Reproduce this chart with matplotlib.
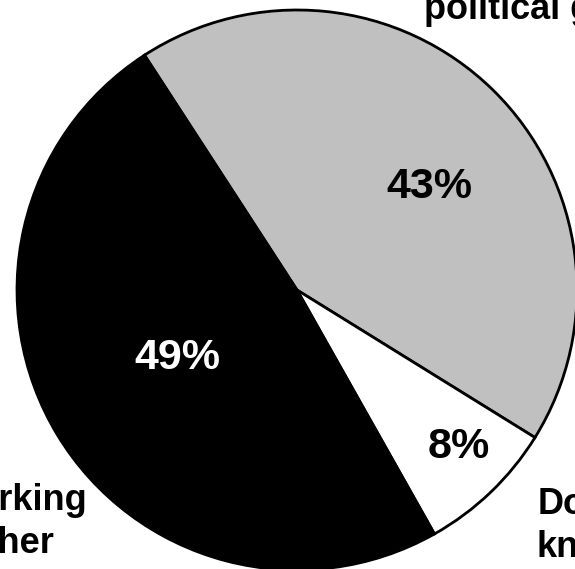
import matplotlib
matplotlib.use("Agg")
import matplotlib.pyplot as plt

categories = ["Political gridlock", "Don't know", "Not working together"]
shares = [43, 8, 49]
pct_labels = ["43%", "8%", "49%"]
colors = ["#c0c0c0", "#ffffff", "#000000"]
pct_colors = ["black", "black", "white"]

W, H = 575, 569
fig = plt.figure(figsize=(W / 100, H / 100), dpi=100)
ax = fig.add_axes([0, 0, 1, 1])

cx, cy, r = 297, H - 290, 280
ax.pie(shares, colors=colors, startangle=123, counterclock=False,
       center=(cx, cy), radius=r,
       wedgeprops=dict(edgecolor="black", linewidth=2.0))
ax.set_xlim(0, W)
ax.set_ylim(0, H)
ax.set_aspect("equal")
ax.axis("off")

font = "Liberation Sans"
# percentage labels (image pixel coordinates -> data)
pct_pos = [(429, 187), (459, 447), (177, 358)]
for (x, y), t, c in zip(pct_pos, pct_labels, pct_colors):
    ax.text(x, H - y, t, ha="center", va="center", fontsize=31,
            fontweight="bold", color=c, family=font)

# category labels
ax.text(567, H - 19, "political gridlock", ha="center", va="baseline",
        fontsize=26, fontweight="bold", family=font)
ax.text(-18, H - 553, "Not working\ntogether", ha="center", va="baseline",
        fontsize=26, fontweight="bold", family=font, linespacing=1.28)
ax.text(583, H - 557, "Don't\nknow", ha="center", va="baseline",
        fontsize=26, fontweight="bold", family=font, linespacing=1.28)

fig.savefig("out.png", dpi=100)
